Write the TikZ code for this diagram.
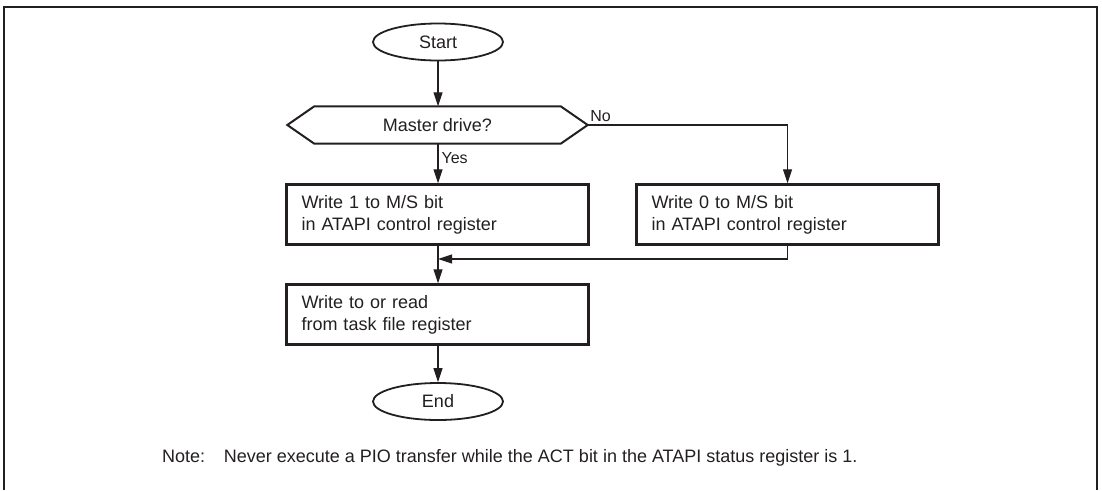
\documentclass[tikz,border=0pt]{standalone}
\usepackage{fontspec}
\setmainfont{Liberation Sans}
\usetikzlibrary{arrows.meta,shapes.geometric}
\definecolor{ink}{HTML}{231F20}
\begin{document}
\begin{tikzpicture}[x=1pt,y=-1pt,
  every node/.style={text=ink,font=\fontsize{18}{22}\selectfont},
  term/.style={ellipse,draw=ink,line width=1.8pt,minimum width=130pt,minimum height=37pt,inner sep=0pt},
  hexbox/.style={rectangle,draw=none,minimum width=300pt,minimum height=37pt,inner sep=0pt},
  proc/.style={rectangle,draw=ink,line width=2.4pt,minimum width=302pt,minimum height=60pt,text width=272pt,align=left,inner xsep=15pt,inner ysep=0pt},
  arr/.style={draw=ink,line width=1.1pt,-{Triangle[length=14pt,width=9pt]}},
  lbl/.style={font=\fontsize{16}{19}\selectfont,inner sep=2pt}
]
\useasboundingbox (0,0) rectangle (1102,490);
\draw[ink,line width=2.5pt] (4,490) -- (4,7) -- (1097,7) -- (1097,490);

\node[term] (start) at (438,42) {Start};
\node[hexbox] (dec) at (437.5,125) {Master drive?};
\draw[ink,line width=2pt,line join=miter] (dec.west) -- ([xshift=27pt]dec.north west) -- ([xshift=-27pt]dec.north east) -- (dec.east) -- ([xshift=-27pt]dec.south east) -- ([xshift=27pt]dec.south west) -- cycle;
\node[proc] (box1) at (437.5,214.5) {Write 1 to M/S bit\\in ATAPI control register};
\node[proc] (box2) at (787.5,214.5) {Write 0 to M/S bit\\in ATAPI control register};
\node[proc] (box3) at (437.5,314.5) {Write to or read\\from task file register};
\node[term] (endn) at (438,401.5) {End};
\coordinate (join) at (438,259);

\draw[arr] (start) -- (dec.north -| start);
\draw[arr] (dec.south -| start) -- node[lbl,right,pos=0.36,xshift=1pt] {Yes} (box1.north -| start);
\draw[arr] (dec.east) -| node[lbl,above right,pos=0,yshift=1pt] {No} (box2.north);
\draw[arr] (box1.south -| start) -- (box3.north -| start);
\draw[arr] (box2.south) |- (join);
\draw[arr] (box3.south -| start) -- (endn);

\node[anchor=base west,inner sep=0pt] (note) at (162,462) {Note:\hspace{12pt} Never execute a PIO transfer while the ACT bit in the ATAPI status register is 1.};
\end{tikzpicture}
\end{document}
